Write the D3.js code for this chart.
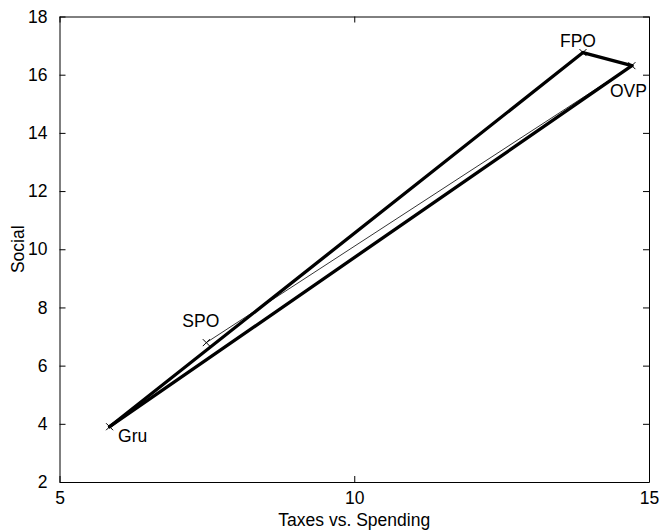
<!DOCTYPE html>
<html>
<head>
<meta charset="utf-8">
<script src="https://cdn.jsdelivr.net/npm/d3@7"></script>
<style>
  body { margin: 0; background: #fff; }
  svg text { font-family: 'Liberation Sans', Arial, sans-serif; font-size: 17.5px; fill: #000; }
</style>
</head>
<body>
<div id="chart"></div>
<script>
'use strict';

// party positions
var parties = [ 'Gru', 'SPO', 'FPO', 'OVP' ];
var taxes = [ 5.85, 7.49, 13.88, 14.71 ];
var social = [ 3.90, 6.79, 16.76, 16.31 ];

// connections between parties (thick = coalition triangle)
var thickLinks = [ [ 'Gru', 'FPO' ], [ 'FPO', 'OVP' ], [ 'OVP', 'Gru' ] ];
var thinLinks = [ [ 'SPO', 'OVP' ] ];

var xTicks = [ 5, 10, 15 ];
var yTicks = [ 2, 4, 6, 8, 10, 12, 14, 16, 18 ];

var width = 662,
    height = 530,
    margin = { top: 16.5, right: 13, bottom: 48, left: 59.5 };

var svg = d3.select( '#chart' )
  .append( 'svg' )
  .attr( 'width', width )
  .attr( 'height', height );

var x = d3.scaleLinear()
  .domain( [ 5, 15 ] )
  .range( [ margin.left, width - margin.right ] );

var y = d3.scaleLinear()
  .domain( [ 2, 18 ] )
  .range( [ height - margin.bottom, margin.top ] );

var points = parties.map(function( p, i ) {
  return { name: p, x: taxes[i], y: social[i] };
});
var byName = {};
points.forEach(function( d ) { byName[d.name] = d; });

// axes: inward ticks on all four sides, MATLAB box style
var tickLen = 6;
svg.append( 'g' )
  .attr( 'transform', 'translate(0,' + y.range()[0] + ')' )
  .call( d3.axisBottom( x ).tickValues( xTicks ).tickSizeInner( -tickLen ).tickSizeOuter( 0 ).tickPadding( 10 ) );
svg.append( 'g' )
  .attr( 'transform', 'translate(0,' + y.range()[1] + ')' )
  .call( d3.axisTop( x ).tickValues( xTicks ).tickSizeInner( -tickLen ).tickSizeOuter( 0 ).tickFormat( '' ) );
svg.append( 'g' )
  .attr( 'transform', 'translate(' + x.range()[0] + ',0)' )
  .call( d3.axisLeft( y ).tickValues( yTicks ).tickSizeInner( -tickLen ).tickSizeOuter( 0 ).tickPadding( 12 ) );
svg.append( 'g' )
  .attr( 'transform', 'translate(' + x.range()[1] + ',0)' )
  .call( d3.axisRight( y ).tickValues( yTicks ).tickSizeInner( -tickLen ).tickSizeOuter( 0 ).tickFormat( '' ) );

svg.selectAll( '.domain, .tick line' )
  .attr( 'stroke', '#000' )
  .attr( 'stroke-width', 1 );
svg.selectAll( '.tick text' )
  .attr( 'font-family', null )
  .attr( 'font-size', null );

function linkPath( a, b ) {
  return d3.line()( [ [ x( byName[a].x ), y( byName[a].y ) ], [ x( byName[b].x ), y( byName[b].y ) ] ] );
}

svg.selectAll( '.thin' )
  .data( thinLinks )
  .enter().append( 'path' )
  .attr( 'class', 'thin' )
  .attr( 'd', function( d ) { return linkPath( d[0], d[1] ); })
  .attr( 'stroke', '#000' )
  .attr( 'stroke-width', 0.8 )
  .attr( 'fill', 'none' );

svg.selectAll( '.thick' )
  .data( thickLinks )
  .enter().append( 'path' )
  .attr( 'class', 'thick' )
  .attr( 'd', function( d ) { return linkPath( d[0], d[1] ); })
  .attr( 'stroke', '#000' )
  .attr( 'stroke-width', 3.3 )
  .attr( 'stroke-linecap', 'round' )
  .attr( 'fill', 'none' );

// x markers
var m = 3.5;
svg.selectAll( '.marker' )
  .data( points )
  .enter().append( 'path' )
  .attr( 'class', 'marker' )
  .attr( 'd', function( d ) {
    var cx = x( d.x ), cy = y( d.y );
    return 'M' + ( cx - m ) + ',' + ( cy - m ) + 'L' + ( cx + m ) + ',' + ( cy + m ) +
      'M' + ( cx - m ) + ',' + ( cy + m ) + 'L' + ( cx + m ) + ',' + ( cy - m );
  })
  .attr( 'stroke', '#000' )
  .attr( 'stroke-width', 1 );

// label offsets relative to each marker
var labelOffset = {
  Gru: [ 8.5, 15 ],
  SPO: [ -24, -16 ],
  FPO: [ -23, -6 ],
  OVP: [ -22, 31 ]
};

svg.selectAll( '.label' )
  .data( points )
  .enter().append( 'text' )
  .attr( 'class', 'label' )
  .attr( 'x', function( d ) { return x( d.x ) + labelOffset[d.name][0]; })
  .attr( 'y', function( d ) { return y( d.y ) + labelOffset[d.name][1]; })
  .text( function( d ) { return d.name; });

svg.append( 'text' )
  .attr( 'x', ( x.range()[0] + x.range()[1] ) / 2 )
  .attr( 'y', 526 )
  .attr( 'text-anchor', 'middle' )
  .text( 'Taxes vs. Spending' );

svg.append( 'text' )
  .attr( 'transform', 'translate(24,' + ( y.range()[0] + y.range()[1] ) / 2 + ') rotate(-90)' )
  .attr( 'text-anchor', 'middle' )
  .text( 'Social' );
</script>
</body>
</html>
